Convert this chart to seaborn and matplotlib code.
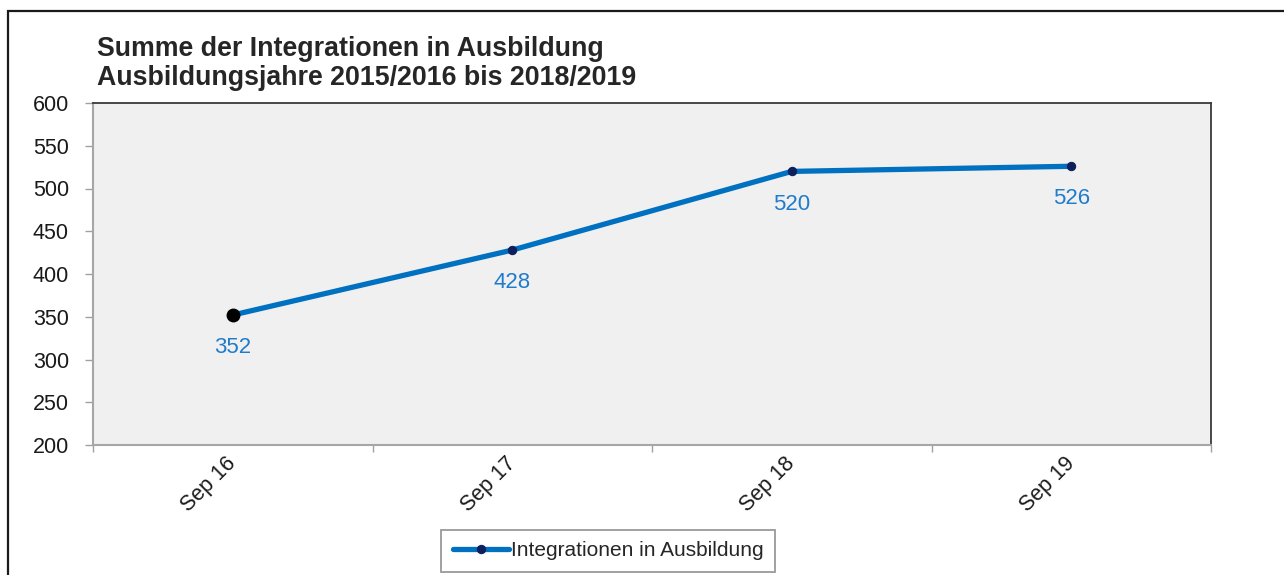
import matplotlib
matplotlib.use("Agg")
import pandas as pd
import seaborn as sns
from matplotlib import pyplot as plt
from matplotlib.patches import Rectangle
from matplotlib.ticker import FixedLocator

# values
monate = ["Sep 16", "Sep 17", "Sep 18", "Sep 19"]
integrationen = [352, 428, 520, 526]
serie_name = "Integrationen in Ausbildung"
titel = "Summe der Integrationen in Ausbildung\nAusbildungsjahre 2015/2016 bis 2018/2019"
y_ticks = [200, 250, 300, 350, 400, 450, 500, 550, 600]

LINE_BLUE = "#0070c0"
MARKER_NAVY = "#0d1f5c"
LABEL_BLUE = "#1f7ccc"


def main():
    sns.set_theme(style="white")
    plt.rcParams["font.family"] = ["Liberation Sans", "DejaVu Sans"]

    df = pd.DataFrame({"monat": monate, "wert": integrationen})

    fig = plt.figure(figsize=(12.84, 5.75), dpi=100)
    fig.patch.set_facecolor("white")
    ax = fig.add_axes([93 / 1284, 1 - 445 / 575, 1118 / 1284, 342 / 575])
    ax.set_facecolor("#f0f0f0")

    sns.lineplot(
        ax=ax,
        data=df,
        x="monat",
        y="wert",
        color=LINE_BLUE,
        linewidth=3.8,
        marker="o",
        markersize=6,
        markerfacecolor=MARKER_NAVY,
        markeredgecolor=MARKER_NAVY,
        label=serie_name,
    )
    # the first point is drawn with a larger black marker in the original
    ax.plot(0, integrationen[0], "o", color="black", markersize=9, zorder=4)

    for i, v in enumerate(integrationen):
        ax.annotate(
            str(v), (i, v), xytext=(0, -23.5), textcoords="offset points",
            ha="center", va="center", fontsize=16, color=LABEL_BLUE,
        )

    ax.set_xlim(-0.5, len(monate) - 0.5)
    ax.set_ylim(y_ticks[0], y_ticks[-1])
    ax.set_yticks(y_ticks)
    ax.set_xlabel("")
    ax.set_ylabel("")

    ax.set_xticks(range(len(monate)))
    ax.set_xticklabels(monate, rotation=45, ha="right", va="center",
                       rotation_mode="anchor", fontsize=15.5, color="#1a1a1a")
    ax.tick_params(axis="x", which="major", length=0, pad=11)
    ax.xaxis.set_minor_locator(FixedLocator([i - 0.5 for i in range(len(monate) + 1)]))
    ax.tick_params(axis="x", which="minor", bottom=True, direction="out",
                   length=5, width=1, color="#a0a0a0")
    ax.tick_params(axis="y", left=True, direction="out", length=5.8, width=1,
                   color="#a0a0a0", labelsize=15.5, pad=11.5, labelcolor="#1a1a1a")

    for side in ["left", "bottom"]:
        ax.spines[side].set_color("#a6a6a6")
        ax.spines[side].set_linewidth(1.5)
    for side in ["top", "right"]:
        ax.spines[side].set_color("#3a3a3a")
        ax.spines[side].set_linewidth(1.3)

    fig.text(97 / 1284, 1 - 36 / 575, titel, ha="left", va="top",
             fontsize=19.3, fontweight="bold", linespacing=1.15)

    ax.get_legend().remove()
    handles, labels = ax.get_legend_handles_labels()
    leg = fig.legend(
        handles[:1], labels[:1], loc="center", bbox_to_anchor=(608 / 1284, 24 / 575),
        fontsize=15, frameon=True, fancybox=False, handlelength=2.7,
        handletextpad=0.1, borderpad=0.55, borderaxespad=0,
    )
    leg.get_frame().set_edgecolor("#808080")
    leg.get_frame().set_linewidth(1.3)

    # outer frame of the chart area (cut off right and bottom in the original)
    fig.add_artist(Rectangle((8 / 1284, -0.1), 1.1, 1.1 - 11 / 575,
                             transform=fig.transFigure, fill=False,
                             edgecolor="#1a1a1a", linewidth=1.6))

    fig.savefig("out.png", dpi=100)


if __name__ == "__main__":
    main()
